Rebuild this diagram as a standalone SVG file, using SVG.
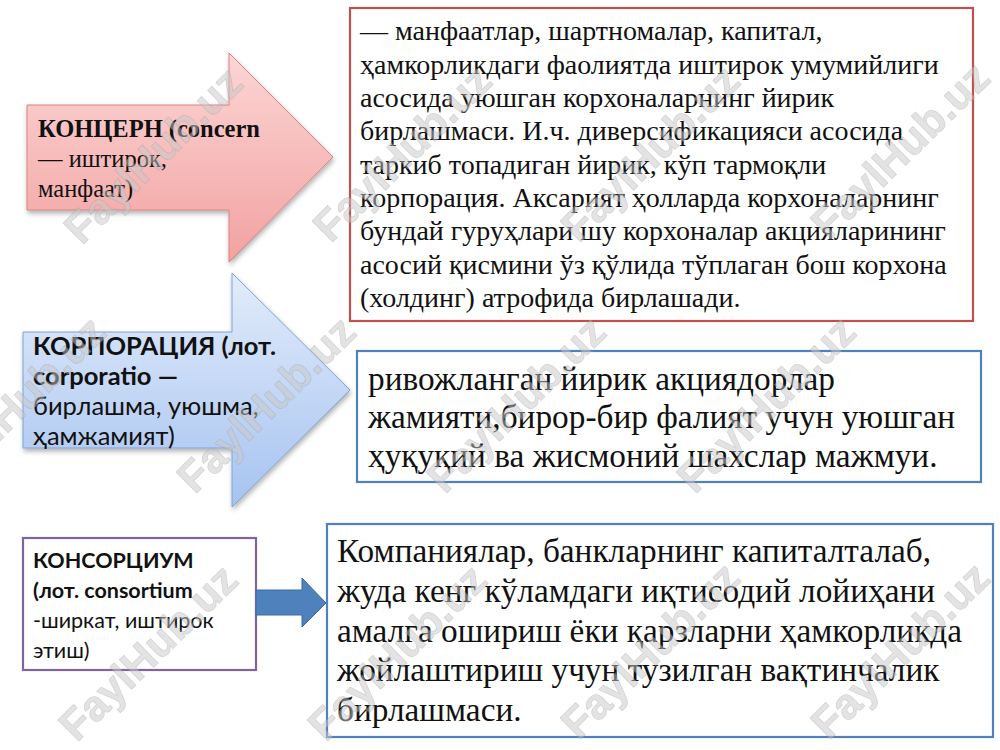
<svg xmlns="http://www.w3.org/2000/svg" width="1000" height="750" viewBox="0 0 1000 750">
<defs>
<linearGradient id="gPink" x1="0" y1="0" x2="0" y2="1">
<stop offset="0" stop-color="#fbd6d5"/>
<stop offset="1" stop-color="#f2a2a1"/>
</linearGradient>
<linearGradient id="gBlue" x1="0" y1="0" x2="0" y2="1">
<stop offset="0" stop-color="#e2ecfb"/>
<stop offset="1" stop-color="#a6c3f0"/>
</linearGradient>
<filter id="shadow" x="-10%" y="-10%" width="125%" height="130%">
<feDropShadow dx="1" dy="3" stdDeviation="2.5" flood-color="#000" flood-opacity="0.3"/>
</filter>
</defs>
<style>
.serif{font-family:"Liberation Serif","Times New Roman",serif;fill:#111}
.sans{font-family:Lato,"Noto Sans",sans-serif;fill:#111}
.b{font-weight:bold}
.box{fill:#fff;stroke-width:2.2}
.wm{font-family:"Liberation Sans",Arial,sans-serif;font-weight:bold;font-size:43px;fill:#c9c9c9;stroke:#a8a8a8;stroke-width:0.8;opacity:0.5;text-anchor:middle}
</style>
<rect width="1000" height="750" fill="#fff"/>

<g id="concern-arrow">
<path d="M27,105 L229,105 L229,53 L333,157 L229,262 L229,210 L27,210 Z" fill="url(#gPink)" stroke="#d9827f" stroke-width="1" filter="url(#shadow)"/>
<text font-family="'Liberation Serif', 'Times New Roman', serif" font-size="24.5" fill="#111"><tspan font-weight="bold" x="38" y="137">КОНЦЕРН (concern</tspan><tspan x="38" y="167">— иштирок,</tspan><tspan x="38" y="197">манфаат)</tspan></text>
</g>

<g id="concern-def">
<rect class="box" x="350" y="8" width="623" height="313" stroke="#c0504d"/>
<text class="serif" font-size="28">
<tspan x="360" y="40">— манфаатлар, шартномалар, капитал,</tspan>
<tspan x="360" y="74">ҳамкорликдаги фаолиятда иштирок умумийлиги</tspan>
<tspan x="360" y="107">асосида уюшган корхоналарнинг йирик</tspan>
<tspan x="360" y="140">бирлашмаси. И.ч. диверсификацияси асосида</tspan>
<tspan x="360" y="174">таркиб топадиган йирик, кўп тармоқли</tspan>
<tspan x="360" y="207">корпорация. Аксарият ҳолларда корхоналарнинг</tspan>
<tspan x="360" y="240">бундай гуруҳлари шу корхоналар акцияларининг</tspan>
<tspan x="360" y="274">асосий қисмини ўз қўлида тўплаган бош корхона</tspan>
<tspan x="360" y="307">(холдинг) атрофида бирлашади.</tspan>
</text>
</g>

<g id="corporation-arrow">
<path d="M23,332 L232,332 L232,273 L350,390 L232,507 L232,448 L23,448 Z" fill="url(#gBlue)" stroke="#7fa2d3" stroke-width="1" filter="url(#shadow)"/>
<text class="sans" font-size="25.5"><tspan class="b" x="33" y="355">КОРПОРАЦИЯ (лот.</tspan><tspan class="b" x="33" y="385">corporatio —</tspan><tspan x="33" y="415">бирлашма, уюшма,</tspan><tspan x="33" y="445">ҳамжамият)</tspan></text>
</g>

<g id="corporation-def">
<rect class="box" x="357" y="351" width="624" height="131" stroke="#4f81bd"/>
<text class="serif" font-size="33.3">
<tspan x="368" y="390">ривожланган йирик акциядорлар</tspan>
<tspan x="368" y="428">жамияти,бирор-бир фалият учун уюшган</tspan>
<tspan x="368" y="467">ҳуқуқий ва жисмоний шахслар мажмуи.</tspan>
</text>
</g>

<g id="consortium-box">
<rect class="box" x="23" y="538" width="233" height="132" stroke="#8064a2"/>
<text class="sans" font-size="21.5"><tspan class="b" x="33" y="568">КОНСОРЦИУМ</tspan><tspan class="b" x="33" y="598">(лот. consortium</tspan><tspan x="33" y="628">-ширкат, иштирок</tspan><tspan x="33" y="658">этиш)</tspan></text>
</g>

<g id="consortium-def">
<rect class="box" x="327" y="524" width="666" height="213" stroke="#4f81bd"/>
<text class="serif" font-size="33.3">
<tspan x="337" y="562">Компаниялар, банкларнинг капиталталаб,</tspan>
<tspan x="337" y="602">жуда кенг кўламдаги иқтисодий лойиҳани</tspan>
<tspan x="337" y="642">амалга ошириш ёки қарзларни ҳамкорликда</tspan>
<tspan x="337" y="681">жойлаштириш учун тузилган вақтинчалик</tspan>
<tspan x="337" y="721">бирлашмаси.</tspan>
</text>
</g>

<g id="connectors">
<path d="M256,590 L302,590 L302,578 L326,603 L302,627 L302,615 L256,615 Z" fill="#4f81bd" stroke="#3a6aa6" stroke-width="1"/>
</g>

<g id="watermarks">
<text class="wm" transform="rotate(-44.5 153 155)" x="153" y="170">FaylHub.uz</text>
<text class="wm" transform="rotate(-44.5 402 153)" x="402" y="168">FaylHub.uz</text>
<text class="wm" transform="rotate(-44.5 650 153)" x="650" y="168">FaylHub.uz</text>
<text class="wm" transform="rotate(-44.5 900 150)" x="900" y="165">FaylHub.uz</text>
<text class="wm" transform="rotate(-44.5 16 404)" x="16" y="419">FaylHub.uz</text>
<text class="wm" transform="rotate(-44.5 266 404)" x="266" y="419">FaylHub.uz</text>
<text class="wm" transform="rotate(-44.5 516 404)" x="516" y="419">FaylHub.uz</text>
<text class="wm" transform="rotate(-44.5 766 404)" x="766" y="419">FaylHub.uz</text>
<text class="wm" transform="rotate(-44.5 148 652)" x="148" y="667">FaylHub.uz</text>
<text class="wm" transform="rotate(-44.5 397 652)" x="397" y="667">FaylHub.uz</text>
<text class="wm" transform="rotate(-44.5 650 650)" x="650" y="665">FaylHub.uz</text>
<text class="wm" transform="rotate(-44.5 900 650)" x="900" y="665">FaylHub.uz</text>
</g>
</svg>
